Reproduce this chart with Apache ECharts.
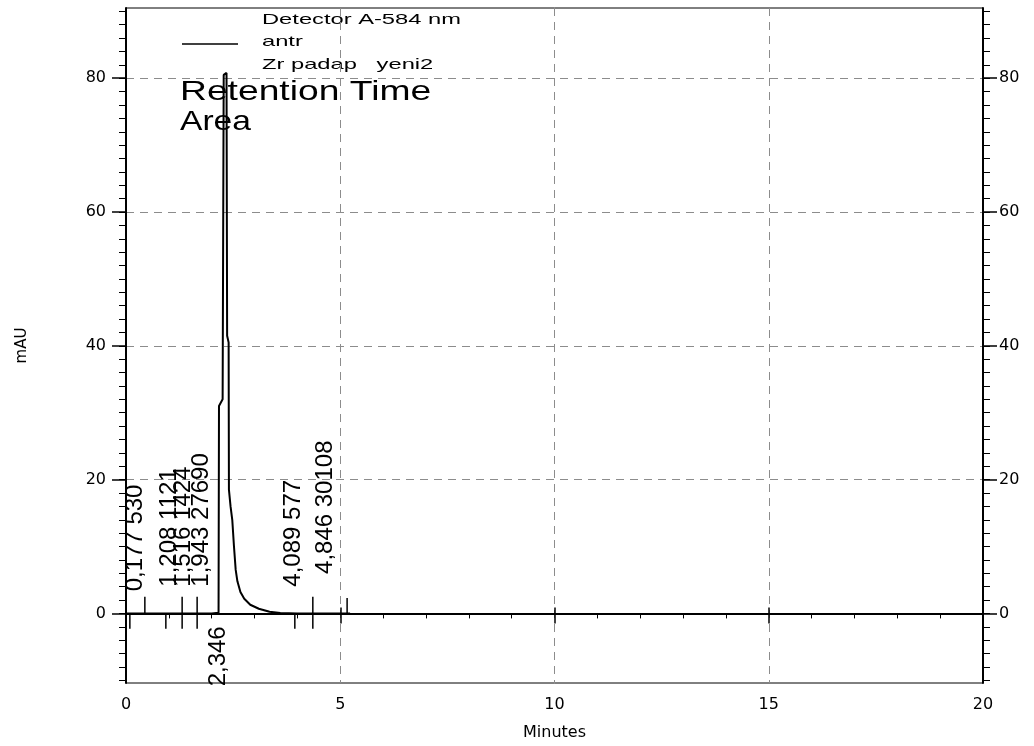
<!DOCTYPE html>
<html>
<head>
<meta charset="utf-8">
<script src="https://cdn.jsdelivr.net/npm/echarts@6/dist/echarts.min.js"></script>
<style>
  html, body { margin: 0; padding: 0; background: #fff; }
  #chart { width: 1034px; height: 746px; }
</style>
</head>
<body>
<div id="chart"></div>
<script>
// Detector trace: time (min) and absorbance (mAU)
const traceTime = [0, 0.5, 1.0, 1.5, 2.0, 2.16, 2.17, 2.255, 2.28, 2.346, 2.36, 2.395, 2.402,
  2.44, 2.48, 2.52, 2.56, 2.60, 2.67, 2.76, 2.90, 3.10, 3.35, 3.60, 4.0, 4.5, 5.23];
const traceMAU = [0, 0, 0, 0, 0, 0.1, 31, 32, 80.5, 80.8, 41.5, 40.5, 18.5,
  16, 14, 10, 6.5, 4.8, 3.2, 2.2, 1.3, 0.7, 0.25, 0.05, 0, 0, 0];

// Integrated peaks: retention time, printed label, where the label starts (mAU)
const peakRT = [0.177, 1.208, 1.516, 1.943, 2.346, 4.089, 4.846];
const peakText = ["0,177 530", "1,208 1121", "1,516 1424", "1,943 27690", "2,346", "4,089 577", "4,846 30108"];
const peakLabelFrom = [3.3, 4.0, 4.0, 4.0, -10.9, 4.0, 5.9];

// Integration event marks on the baseline: time, upper end, lower end (mAU)
const markRT = [0.09, 0.44, 0.93, 1.31, 1.66, 3.94, 4.36, 5.16];
const markTop = [0, 2.5, 0, 2.5, 2.5, 0, 2.5, 2.3];
const markBottom = [-2.3, 0, -2.3, -2.3, -2.3, -2.3, -2.3, 0];

// Axes
const xTicks = [0, 5, 10, 15, 20];
const yMajorTicks = [0, 20, 40, 60, 80];
const yMinorTicks = [-10, -8, -6, -4, -2, 0, 2, 4, 6, 8, 10, 12, 14, 16, 18, 20, 22, 24, 26, 28, 30,
  32, 34, 36, 38, 40, 42, 44, 46, 48, 50, 52, 54, 56, 58, 60, 62, 64, 66, 68, 70,
  72, 74, 76, 78, 80, 82, 84, 86, 88, 90];
const yMin = -10.4, yMax = 90.5;

const chart = echarts.init(document.getElementById('chart'), null, { renderer: 'canvas' });

const tickFont = { color: '#000', fontFamily: 'DejaVu Sans', fontSize: 16 };
const gridDash = { color: '#8c8c8c', width: 1, type: [8, 6] };

function yAxisPair(position) {
  return [
    {
      type: 'value', position, min: yMin, max: yMax,
      axisLine: { show: true, lineStyle: { color: '#000', width: 2 } },
      axisTick: { show: true, customValues: yMajorTicks, length: 14, lineStyle: { color: '#000', width: 1.5 } },
      axisLabel: Object.assign({ show: true, customValues: yMajorTicks, margin: position === 'left' ? 20 : 16 }, tickFont),
      splitLine: { show: position === 'left', lineStyle: gridDash },
      name: position === 'left' ? 'mAU' : '',
      nameLocation: 'middle', nameRotate: 90, nameGap: 96,
      nameTextStyle: { color: '#000', fontFamily: 'DejaVu Sans', fontSize: 15 }
    },
    {
      type: 'value', position, min: yMin, max: yMax,
      axisLine: { show: false },
      axisTick: { show: true, customValues: yMinorTicks, length: 7, lineStyle: { color: '#000', width: 1 } },
      axisLabel: { show: false },
      splitLine: { show: false }
    }
  ];
}

const option = {
  backgroundColor: '#fff',
  animation: false,
  grid: { left: 126, right: 51, top: 8, bottom: 59, show: true, borderColor: '#000', borderWidth: 1, backgroundColor: 'transparent' },
  xAxis: [
    {
      type: 'value', position: 'bottom', min: xTicks[0], max: xTicks[xTicks.length - 1], interval: 5,
      axisLine: { show: true, lineStyle: { color: '#000', width: 2 } },
      axisTick: { show: true, length: 10, lineStyle: { color: '#000', width: 1.5 } },
      minorTick: { show: true, splitNumber: 5, length: 5, lineStyle: { color: '#000', width: 1 } },
      axisLabel: Object.assign({ margin: 14 }, tickFont),
      splitLine: { show: true, lineStyle: gridDash },
      name: 'Minutes', nameLocation: 'middle', nameGap: 42,
      nameTextStyle: { color: '#000', fontFamily: 'DejaVu Sans', fontSize: 16 }
    },
    {
      // upper half of the major ticks, which cross the time axis
      type: 'value', position: 'bottom', min: xTicks[0], max: xTicks[xTicks.length - 1], interval: 5,
      axisLine: { show: false },
      axisTick: { show: true, inside: true, length: 6, lineStyle: { color: '#000', width: 1.5 } },
      axisLabel: { show: false },
      splitLine: { show: false }
    }
  ],
  yAxis: [].concat(yAxisPair('left'), yAxisPair('right')),
  graphic: [
    { type: 'text', left: 262, top: 12, scaleX: 1.58, style: { text: 'Detector A-584 nm', font: '15px "Liberation Sans"', fill: '#000' } },
    { type: 'line', shape: { x1: 182, y1: 44, x2: 238, y2: 44 }, style: { stroke: '#000', lineWidth: 1.5 } },
    { type: 'text', left: 262, top: 34, scaleX: 1.58, style: { text: 'antr', font: '15px "Liberation Sans"', fill: '#000' } },
    { type: 'text', left: 262, top: 57, scaleX: 1.58, style: { text: 'Zr padap   yeni2', font: '15px "Liberation Sans"', fill: '#000' } },
    { type: 'text', left: 180, top: 78, scaleX: 1.33, style: { text: 'Retention Time', font: '28px "Liberation Sans"', fill: '#000' } },
    { type: 'text', left: 180, top: 108, scaleX: 1.2, style: { text: 'Area', font: '28px "Liberation Sans"', fill: '#000' } }
  ],
  series: [
    {
      name: 'antr', type: 'line', xAxisIndex: 0, yAxisIndex: 0,
      data: traceTime.map((t, i) => [t, traceMAU[i]]),
      showSymbol: false, symbol: 'none',
      lineStyle: { color: '#000', width: 2 },
      z: 5
    },
    {
      name: 'events', type: 'custom', xAxisIndex: 0, yAxisIndex: 0, silent: true,
      data: markRT.map((t, i) => [t, markTop[i], markBottom[i]]),
      renderItem(params, api) {
        const a = api.coord([api.value(0), api.value(1)]);
        const b = api.coord([api.value(0), api.value(2)]);
        return { type: 'line', shape: { x1: a[0], y1: a[1], x2: b[0], y2: b[1] }, style: { stroke: '#000', lineWidth: 1.5 } };
      },
      z: 6
    },
    {
      name: 'peakLabels', type: 'custom', xAxisIndex: 0, yAxisIndex: 0, silent: true, clip: false,
      data: peakRT.map((t, i) => [t, peakLabelFrom[i], i]),
      renderItem(params, api) {
        const i = api.value(2);
        const p = api.coord([api.value(0), api.value(1)]);
        const left = params.coordSys.x;
        // keep the text column clear of the left axis line
        const shift = Math.max(-3, Math.min(8, p[0] - left - 9));
        return {
          type: 'text', x: p[0] - shift, y: p[1], rotation: Math.PI / 2,
          style: { text: peakText[i], font: '24px "Liberation Sans"', fill: '#000', align: 'left', verticalAlign: 'middle' }
        };
      },
      z: 7
    }
  ]
};

chart.setOption(option);
</script>
</body>
</html>
